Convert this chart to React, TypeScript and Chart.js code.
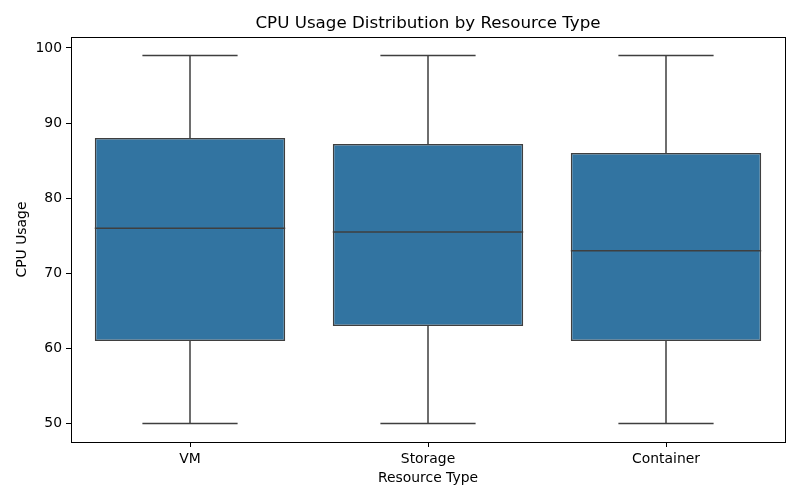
import React, { useEffect, useRef } from "react";
import { Chart, registerables } from "chart.js";

Chart.register(...registerables);

const categories = ["VM", "Storage", "Container"];
const whiskerLow = [50, 50, 50];
const q1 = [61, 63, 61];
const median = [76, 75.5, 73];
const q3 = [88, 87.2, 86];
const whiskerHigh = [99, 99, 99];
const yTicks = [50, 60, 70, 80, 90, 100];

const FONT = "'DejaVu Sans', sans-serif";
const LINE = "#3f3f3f";

const boxPlugin = {
  id: "boxParts",
  afterDatasetsDraw(chart: any) {
    const { ctx, chartArea } = chart;
    const xs = chart.scales.x;
    const ys = chart.scales.y;
    const meta = chart.getDatasetMeta(0);
    ctx.save();
    ctx.strokeStyle = LINE;
    ctx.lineWidth = 1.5;
    categories.forEach((_, i) => {
      const x = xs.getPixelForValue(i);
      const w = meta.data[i].width;
      const cap = w / 4;
      const yMin = ys.getPixelForValue(whiskerLow[i]);
      const yQ1 = ys.getPixelForValue(q1[i]);
      const yMed = ys.getPixelForValue(median[i]);
      const yQ3 = ys.getPixelForValue(q3[i]);
      const yMax = ys.getPixelForValue(whiskerHigh[i]);
      ctx.beginPath();
      ctx.moveTo(x, yQ3);
      ctx.lineTo(x, yMax);
      ctx.moveTo(x - cap, yMax);
      ctx.lineTo(x + cap, yMax);
      ctx.moveTo(x, yQ1);
      ctx.lineTo(x, yMin);
      ctx.moveTo(x - cap, yMin);
      ctx.lineTo(x + cap, yMin);
      ctx.moveTo(x - w / 2, yMed);
      ctx.lineTo(x + w / 2, yMed);
      ctx.stroke();
    });
    ctx.strokeStyle = "#000000";
    ctx.lineWidth = 1;
    ctx.strokeRect(
      Math.round(chartArea.left) + 0.5,
      Math.round(chartArea.top) + 0.5,
      Math.round(chartArea.right - chartArea.left),
      Math.round(chartArea.bottom - chartArea.top)
    );
    ctx.restore();
  },
};

export default function App() {
  const ref = useRef<HTMLCanvasElement>(null);
  useEffect(() => {
    document.body.style.margin = "0";
    const chart = new Chart(ref.current as HTMLCanvasElement, {
      type: "bar",
      data: {
        labels: categories,
        datasets: [
          {
            data: categories.map((_, i) => [q1[i], q3[i]]) as any,
            backgroundColor: "#3274a1",
            borderColor: LINE,
            borderWidth: 1.5,
            borderSkipped: false,
            barPercentage: 0.8,
            categoryPercentage: 1,
          },
        ],
      },
      options: {
        responsive: false,
        animation: false,
        layout: { padding: { left: 14, right: 15, top: 0, bottom: 13 } },
        plugins: {
          legend: { display: false },
          tooltip: { enabled: false },
          title: {
            display: true,
            fullSize: false,
            text: "CPU Usage Distribution by Resource Type",
            color: "#000",
            font: { family: FONT, size: 16.7, weight: "normal" },
            padding: { top: 14, bottom: 3 },
          },
        },
        scales: {
          x: {
            offset: true,
            grid: {
              offset: false,
              drawOnChartArea: false,
              drawTicks: true,
              tickLength: 5,
              color: "#000",
            },
            border: { display: false },
            ticks: {
              color: "#000",
              font: { family: FONT, size: 13.9 },
              padding: 4,
            },
            title: {
              display: true,
              text: "Resource Type",
              color: "#000",
              font: { family: FONT, size: 13.9 },
              padding: { top: 2, bottom: 0 },
            },
            afterFit(s: any) {
              s.height = 45;
            },
          },
          y: {
            min: 47.55,
            max: 101.45,
            grid: {
              drawOnChartArea: false,
              drawTicks: true,
              tickLength: 5,
              color: "#000",
            },
            border: { display: false },
            ticks: {
              color: "#000",
              font: { family: FONT, size: 13.9 },
              padding: 4,
            },
            afterBuildTicks(s: any) {
              s.ticks = yTicks.map((v) => ({ value: v }));
            },
            title: {
              display: true,
              text: "CPU Usage",
              color: "#000",
              font: { family: FONT, size: 13.9 },
              padding: { top: 0, bottom: 6 },
            },
            afterFit(s: any) {
              s.width = 57;
            },
          },
        },
      },
      plugins: [boxPlugin],
    });
    return () => chart.destroy();
  }, []);
  return (
    <div style={{ width: 800, height: 500 }}>
      <canvas ref={ref} width={800} height={500} />
    </div>
  );
}
